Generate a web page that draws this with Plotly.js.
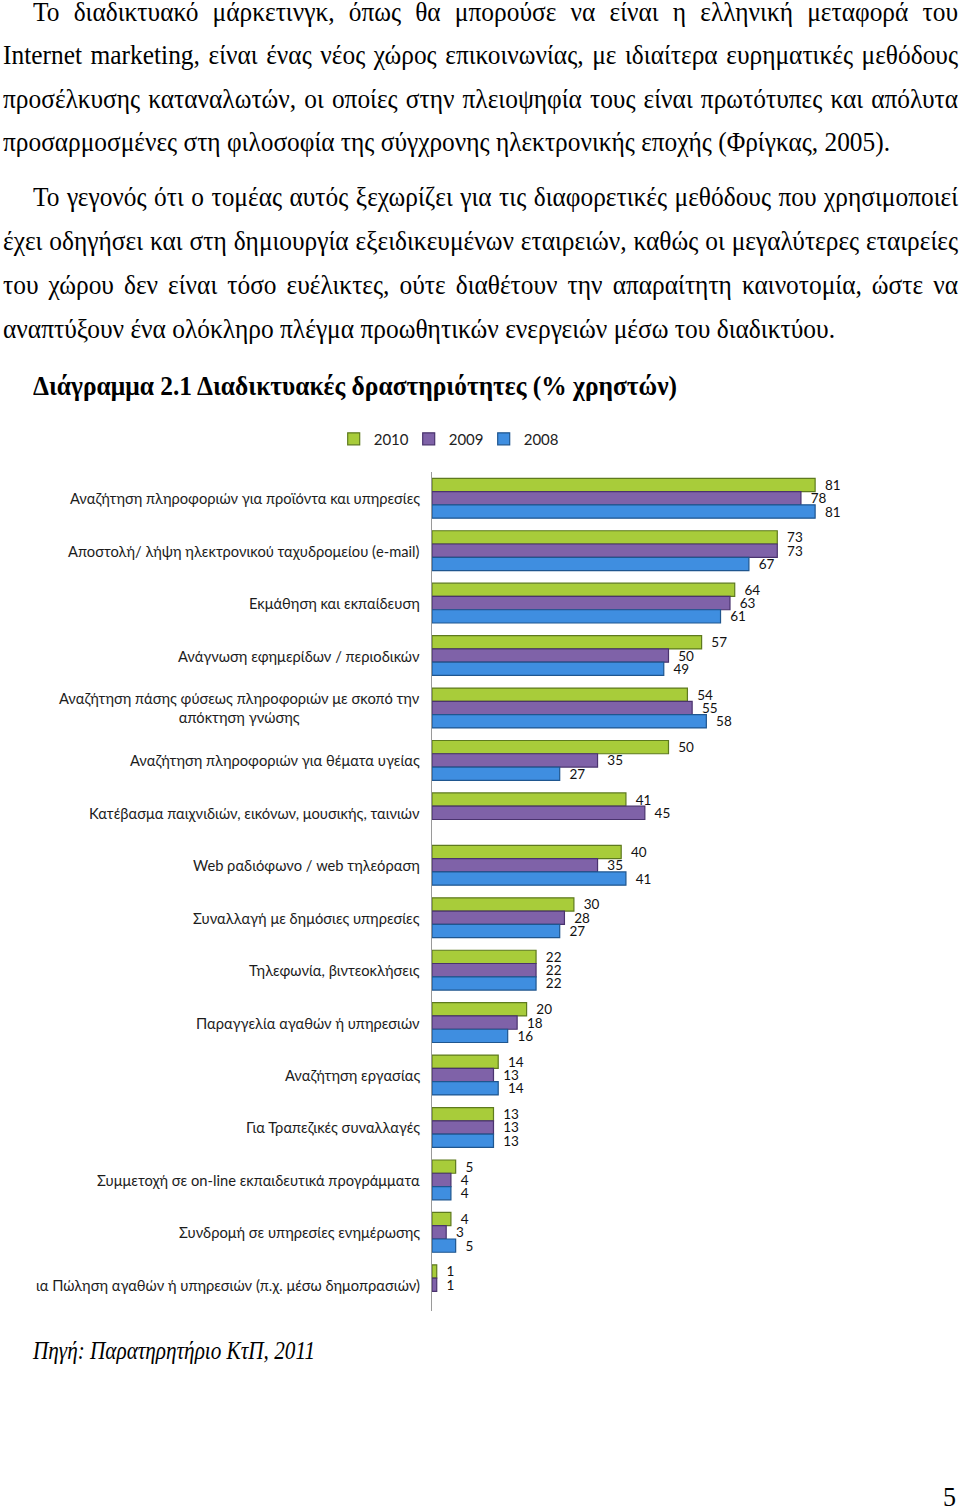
<!DOCTYPE html>
<html>
<head>
<meta charset="utf-8">
<script src="https://cdn.plot.ly/plotly-3.0.1.min.js"></script>
<style>
  html, body { margin:0; padding:0; background:#fff; }
  body { width:960px; height:1509px; position:relative; overflow:hidden; }
  .ln { position:absolute; white-space:nowrap; font-family:"Liberation Serif","DejaVu Serif Condensed","Times New Roman",serif;
        font-size:27px; line-height:44px; color:#000; transform-origin:0 0; margin:0; }
  .just { text-align:justify; text-align-last:justify; }
  .bold { font-weight:bold; }
  .it { font-style:italic; }
  #chart { position:absolute; left:0; top:415px; width:960px; height:905px; }
</style>
</head>
<body>
<div id="text"></div>
<div id="chart"></div>
<script>
// ---- page text (line by line as in the reference) ----
const textLines = [
  {t:"Το διαδικτυακό μάρκετινγκ, όπως θα μπορούσε να είναι η ελληνική μεταφορά του", x0:33, x1:958, b:21, j:true},
  {t:"Internet marketing, είναι ένας νέος χώρος επικοινωνίας, με ιδιαίτερα ευρηματικές μεθόδους", x0:3, x1:958, b:64, j:true},
  {t:"προσέλκυσης καταναλωτών, οι οποίες στην πλειοψηφία τους είναι πρωτότυπες και απόλυτα", x0:3, x1:958, b:108, j:true},
  {t:"προσαρμοσμένες στη φιλοσοφία της σύγχρονης ηλεκτρονικής εποχής (Φρίγκας, 2005).", x0:3, x1:890, b:151, j:false},
  {t:"Το γεγονός ότι ο τομέας αυτός ξεχωρίζει για τις διαφορετικές μεθόδους που χρησιμοποιεί", x0:33, x1:958, b:206, j:true},
  {t:"έχει οδηγήσει και στη δημιουργία εξειδικευμένων εταιρειών, καθώς οι μεγαλύτερες εταιρείες", x0:3, x1:958, b:250, j:true},
  {t:"του χώρου δεν είναι τόσο ευέλικτες, ούτε διαθέτουν την απαραίτητη καινοτομία, ώστε να", x0:3, x1:958, b:294, j:true},
  {t:"αναπτύξουν ένα ολόκληρο πλέγμα προωθητικών ενεργειών μέσω του διαδικτύου.", x0:3, x1:835, b:338, j:false},
  {t:"Διάγραμμα 2.1 Διαδικτυακές δραστηριότητες (% χρηστών)", x0:33, x1:677, b:395, j:false, cls:"bold"},
  {t:"Πηγή: Παρατηρητήριο ΚτΠ, 2011", x0:33, x1:315, b:1360, j:false, cls:"it", fs:25},
  {t:"5", x0:943, x1:956, b:1506, j:false}
];
(function drawText(){
  const host = document.getElementById('text');
  const els = textLines.map(L => {
    const d = document.createElement('div');
    d.className = 'ln' + (L.cls ? ' ' + L.cls : '');
    if (L.fs) d.style.fontSize = L.fs + 'px';
    d.textContent = L.t;
    d.style.left = L.x0 + 'px';
    d.style.top = (L.b - 31) + 'px';
    host.appendChild(d);
    return d;
  });
  const nat = els.map(e => e.getBoundingClientRect().width);
  const s3 = (textLines[3].x1 - textLines[3].x0) / nat[3];
  const s7 = (textLines[7].x1 - textLines[7].x0) / nat[7];
  const sg = (s3 + s7) / 2;
  els.forEach((e, i) => {
    const L = textLines[i];
    const target = L.x1 - L.x0;
    let s;
    if (L.j) {
      s = Math.min(sg, target / nat[i]);
      e.classList.add('just');
      e.style.width = (target / s) + 'px';
      e.style.whiteSpace = 'normal';
    } else {
      s = target / nat[i];
    }
    e.style.transform = 'scaleX(' + s + ')';
  });
})();

// ---- chart data ----
const categories = [
  "Αναζήτηση πληροφοριών για προϊόντα και υπηρεσίες",
  "Αποστολή/ λήψη ηλεκτρονικού ταχυδρομείου (e-mail)",
  "Εκμάθηση και εκπαίδευση",
  "Ανάγνωση εφημερίδων / περιοδικών",
  "Αναζήτηση πάσης φύσεως πληροφοριών με σκοπό την<br>απόκτηση γνώσης",
  "Αναζήτηση πληροφοριών για θέματα υγείας",
  "Κατέβασμα παιχνιδιών, εικόνων, μουσικής, ταινιών",
  "Web ραδιόφωνο / web τηλεόραση",
  "Συναλλαγή με δημόσιες υπηρεσίες",
  "Τηλεφωνία, βιντεοκλήσεις",
  "Παραγγελία αγαθών ή υπηρεσιών",
  "Αναζήτηση εργασίας",
  "Για Τραπεζικές συναλλαγές",
  "Συμμετοχή σε on-line εκπαιδευτικά προγράμματα",
  "Συνδρομή σε υπηρεσίες ενημέρωσης",
  "ια Πώληση αγαθών ή υπηρεσιών (π.χ. μέσω δημοπρασιών)"
];
const values2010 = [81, 73, 64, 57, 54, 50, 41, 40, 30, 22, 20, 14, 13, 5, 4, 1];
const values2009 = [78, 73, 63, 50, 55, 35, 45, 35, 28, 22, 18, 13, 13, 4, 3, 1];
const values2008 = [81, 67, 61, 49, 58, 27, null, 41, 27, 22, 16, 14, 13, 4, 5, null];
const seriesNames = ["2010", "2009", "2008"];

const fills = ["#A8CC3A", "#7F62A8", "#3F8EE0"];
const edges = ["#5E7A1E", "#4A336E", "#1F568F"];
const series = [values2010, values2009, values2008];
const lblFont = 'Lato, "Open Sans", sans-serif';

const traces = series.map((vals, i) => ({
  type: 'bar',
  orientation: 'h',
  name: seriesNames[i],
  y: categories,
  x: vals,
  text: vals.map(v => v == null ? '' : '\u2002' + v),
  textposition: 'outside',
  constraintext: 'none',
  cliponaxis: false,
  textfont: { family: lblFont, size: 13.5, color: '#111' },
  marker: { color: fills[i], line: { color: edges[i], width: 1.2 } },
  hoverinfo: 'x+name'
}));

const catAnnotations = categories.map(c => ({
  xref: 'paper', x: 0, xanchor: 'right', xshift: -10,
  yref: 'y', y: c, yanchor: 'middle',
  text: c, showarrow: false, align: 'center',
  font: { family: lblFont, size: 14.7, color: '#1c1c1c' }
}));

const layout = {
  width: 960, height: 905,
  margin: { l: 432, r: 55, t: 56, b: 9 },
  paper_bgcolor: '#fff', plot_bgcolor: '#fff',
  barmode: 'group',
  bargap: 0.24,
  bargroupgap: 0,
  showlegend: true,
  legend: {
    orientation: 'h', x: 0.03, xanchor: 'center', y: 1.038, yanchor: 'middle',
    font: { family: lblFont, size: 15, color: '#222' },
    itemwidth: 30, entrywidth: 30, entrywidthmode: 'pixels', traceorder: 'normal'
  },
  annotations: catAnnotations,
  xaxis: { range: [0, 100], showgrid: false, zeroline: false, showticklabels: false, ticks: '', showline: false, fixedrange: true },
  yaxis: {
    type: 'category', autorange: 'reversed', showgrid: false, zeroline: false,
    showline: true, linecolor: '#9a9a9a', linewidth: 1.5, ticks: '', showticklabels: false,
    fixedrange: true
  },
  font: { family: lblFont }
};

Plotly.newPlot('chart', traces, layout, { displayModeBar: false, staticPlot: true });
</script>
</body>
</html>
